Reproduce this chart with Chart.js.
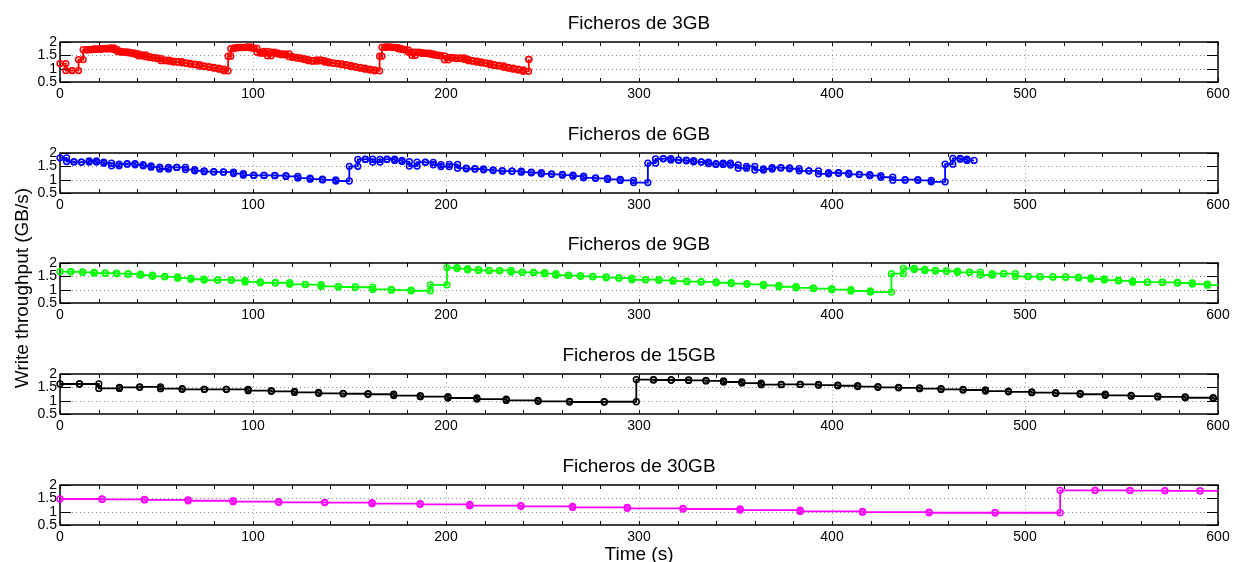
<!DOCTYPE html>
<html>
<head>
<meta charset="utf-8">
<script src="https://cdn.jsdelivr.net/npm/chart.js@4.4.1/dist/chart.umd.min.js"></script>
<style>
  html, body { margin: 0; padding: 0; background: #fff; }
  body { width: 1242px; height: 562px; position: relative; overflow: hidden; }
  canvas { position: absolute; left: 0; top: 0; }
</style>
</head>
<body>
<canvas id="p0" width="1242" height="562"></canvas>
<canvas id="p1" width="1242" height="562"></canvas>
<canvas id="p2" width="1242" height="562"></canvas>
<canvas id="p3" width="1242" height="562"></canvas>
<canvas id="p4" width="1242" height="562"></canvas>
<script>
// Shared axis ticks
const xTicks = [0, 100, 200, 300, 400, 500, 600];
const yTicks = [0.5, 1, 1.5, 2];
const yTickLabels = ['0.5', '1', '1.5', '2'];
const titles = ['Ficheros de 3GB', 'Ficheros de 6GB', 'Ficheros de 9GB', 'Ficheros de 15GB', 'Ficheros de 30GB'];
const xLabel = 'Time (s)';
const yLabel = 'Write throughput (GB/s)';

// File boundaries (s) and write throughput of each file (GB/s) between consecutive boundaries
const t3 = [0, 3.0, 6.3, 9.6, 12.0,
  14.1, 15.8, 17.6, 19.3, 21.0, 22.8, 24.5, 26.2, 27.9, 29.6, 31.4, 33.2, 35.0, 36.9, 38.8, 40.6, 42.5, 44.4, 46.4, 48.4,
  50.4, 52.4, 54.5, 56.6, 58.7, 60.9, 63.1, 65.3, 67.6, 69.9, 72.3, 74.7, 77.2, 79.8, 82.4, 85.0,
  87.1, 88.5, 90.2, 91.9, 93.6, 95.3, 97.0, 98.7, 100.4, 102.1, 103.9, 105.7, 107.5, 109.4, 111.2, 113.0, 114.9, 116.8,
  118.7, 120.6, 122.6, 124.6, 126.6, 128.7, 130.8, 132.9, 135.0, 137.1, 139.3, 141.5, 143.8, 146.1, 148.4, 150.8, 153.2,
  155.6, 158.1, 160.6, 163.1,
  165.6, 166.8, 168.5, 170.2, 171.9, 173.6, 175.3, 177.0, 178.7, 180.5, 182.3, 184.1, 185.9, 187.8, 189.6, 191.5, 193.4,
  195.3, 197.2, 199.2, 201.2, 203.2, 205.3, 207.4, 209.5, 211.6, 213.8, 216.0, 218.2, 220.5, 222.8, 225.1, 227.5, 229.9,
  232.4, 234.9, 237.5, 240.1, 242.8, 243.0];
const v3 = [1.19, 0.93, 0.93, 1.34, 1.71,
  1.71, 1.72, 1.74, 1.72, 1.75, 1.76, 1.74, 1.78, 1.72, 1.65, 1.62, 1.63, 1.60, 1.58, 1.55, 1.48, 1.52, 1.45, 1.42, 1.40,
  1.38, 1.30, 1.32, 1.28, 1.25, 1.26, 1.22, 1.20, 1.17, 1.15, 1.10, 1.08, 1.05, 1.02, 0.98, 0.92,
  1.47, 1.75, 1.78, 1.80, 1.79, 1.80, 1.82, 1.78, 1.76, 1.62, 1.58, 1.65, 1.48, 1.62, 1.58, 1.55, 1.52, 1.55, 1.45, 1.42,
  1.40, 1.38, 1.34, 1.30, 1.28, 1.33, 1.30, 1.25, 1.22, 1.20, 1.18, 1.15, 1.12, 1.08, 1.05, 1.02, 0.98, 0.95, 0.92,
  1.47, 1.80, 1.82, 1.81, 1.80, 1.79, 1.75, 1.72, 1.70, 1.62, 1.50, 1.62, 1.60, 1.57, 1.58, 1.55, 1.52, 1.50, 1.48, 1.33,
  1.42, 1.40, 1.38, 1.40, 1.35, 1.30, 1.28, 1.25, 1.22, 1.20, 1.15, 1.12, 1.10, 1.05, 1.02, 0.98, 0.95, 0.90, 1.35];

const t6 = [0, 3.4, 7.2, 11.1, 15.1, 18.9, 22.7, 26.7, 30.6, 34.8, 38.9, 43.1, 47.2, 51.7, 56.2, 60.5, 65.0, 69.8, 74.7,
  79.7, 84.7, 89.9, 95.0, 100.4, 105.7, 111.3, 117.1, 123.2, 129.6, 136.0, 142.9, 149.9, 154.3, 158.2, 162.0, 165.8,
  169.4, 173.4, 177.2, 181.0, 185.0, 189.3, 193.4, 197.4, 201.7, 206.0, 210.5, 215.0, 219.5, 224.4, 229.2, 234.2, 239.0,
  244.2, 249.4, 254.7, 260.3, 265.8, 271.3, 277.5, 283.7, 290.3, 297.2, 304.6, 308.6, 312.6, 316.5, 320.5, 324.5, 328.3,
  332.3, 336.0, 339.9, 343.6, 347.4, 351.4, 355.7, 360.0, 364.5, 369.0, 373.5, 378.0, 383.0, 388.0, 393.0, 398.2, 403.4,
  408.7, 414.1, 419.6, 425.3, 431.5, 437.9, 444.5, 451.4, 458.6, 462.6, 466.4, 469.9, 473.6];
const v6 = [1.82, 1.68, 1.66, 1.66, 1.70, 1.66, 1.62, 1.52, 1.58, 1.60, 1.56, 1.52, 1.47, 1.40, 1.46, 1.46, 1.38, 1.33,
  1.30, 1.29, 1.28, 1.23, 1.17, 1.16, 1.16, 1.15, 1.12, 1.06, 1.02, 0.99, 0.95, 1.50, 1.76, 1.77, 1.66, 1.76, 1.77, 1.72,
  1.68, 1.51, 1.66, 1.65, 1.56, 1.49, 1.57, 1.43, 1.41, 1.40, 1.37, 1.34, 1.32, 1.32, 1.28, 1.26, 1.22, 1.20, 1.17, 1.13,
  1.07, 1.05, 1.01, 0.97, 0.89, 1.62, 1.78, 1.79, 1.74, 1.73, 1.71, 1.67, 1.66, 1.60, 1.57, 1.62, 1.55, 1.43, 1.50, 1.36,
  1.40, 1.45, 1.44, 1.41, 1.33, 1.33, 1.22, 1.26, 1.24, 1.20, 1.19, 1.15, 1.09, 0.98, 1.00, 0.975, 0.92, 1.58, 1.80, 1.77,
  1.72];

const t9 = [0, 5.6, 11.7, 17.7, 23.4, 29.3, 35.3, 41.7, 47.9, 54.3, 61.0, 67.8, 74.7, 81.7, 88.8, 95.9, 103.8, 111.6,
  119.0, 127.1, 135.3, 144.2, 153.0, 162.0, 171.7, 181.9, 191.9, 200.5, 205.7, 211.2, 216.8, 222.3, 227.8, 233.7, 239.5,
  245.4, 251.1, 257.0, 263.5, 269.7, 276.1, 283.0, 289.6, 296.3, 303.4, 310.3, 317.6, 324.8, 332.2, 340.0, 347.8, 355.9,
  364.5, 372.5, 381.4, 390.4, 399.9, 409.8, 419.9, 430.8, 437.0, 442.6, 448.1, 453.6, 459.3, 465.0, 471.2, 476.9, 483.0,
  489.0, 495.0, 501.6, 507.8, 514.5, 521.1, 527.7, 534.2, 541.1, 548.4, 555.8, 563.4, 571.2, 579.0, 586.7, 594.5, 602.5];
const v9 = [1.68, 1.67, 1.65, 1.62, 1.62, 1.60, 1.58, 1.54, 1.50, 1.48, 1.43, 1.39, 1.36, 1.365, 1.35, 1.29, 1.26, 1.26,
  1.20, 1.19, 1.12, 1.10, 1.09, 1.01, 0.98, 0.96, 1.18, 1.83, 1.79, 1.75, 1.72, 1.71, 1.72, 1.66, 1.65, 1.64, 1.60, 1.54,
  1.53, 1.50, 1.48, 1.45, 1.43, 1.37, 1.38, 1.35, 1.32, 1.30, 1.29, 1.26, 1.23, 1.20, 1.16, 1.11, 1.07, 1.04, 1.00, 0.95,
  0.91, 1.60, 1.80, 1.76, 1.72, 1.70, 1.69, 1.65, 1.66, 1.55, 1.60, 1.60, 1.50, 1.49, 1.48, 1.475, 1.47, 1.44, 1.40, 1.36,
  1.33, 1.28, 1.28, 1.27, 1.25, 1.21, 1.17];

const t15 = [0, 10.1, 20.1, 30.8, 41.3, 52.1, 63.3, 74.8, 86.2, 97.5, 109.5, 121.5, 134.0, 146.7, 159.6, 172.9, 186.7,
  201.0, 216.0, 231.2, 247.7, 264.0, 282.0, 298.6, 307.5, 316.7, 325.7, 334.7, 343.8, 353.3, 363.3, 373.7, 383.5, 393.0,
  403.0, 413.3, 423.8, 434.5, 445.4, 456.5, 467.9, 479.5, 491.4, 503.5, 515.9, 528.6, 541.6, 555.0, 568.8, 583.0, 597.5,
  612.0];
const v15 = [1.625, 1.625, 1.46, 1.50, 1.52, 1.45, 1.425, 1.425, 1.425, 1.375, 1.35, 1.31, 1.275, 1.26, 1.24, 1.19, 1.15,
  1.10, 1.06, 1.01, 0.975, 0.95, 0.96, 1.79, 1.775, 1.775, 1.76, 1.74, 1.70, 1.66, 1.60, 1.61, 1.61, 1.58, 1.56, 1.53,
  1.50, 1.48, 1.45, 1.42, 1.40, 1.36, 1.33, 1.30, 1.27, 1.24, 1.20, 1.17, 1.14, 1.11, 1.08];

const t30 = [0, 21.8, 43.8, 66.4, 89.7, 113.3, 137.2, 161.7, 186.6, 212.3, 238.8, 265.6, 293.9, 322.8, 352.4, 383.5,
  415.8, 450.3, 484.5, 518.2, 536.3, 554.4, 572.5, 590.7, 609.0];
const v30 = [1.475, 1.46, 1.44, 1.41, 1.375, 1.35, 1.34, 1.30, 1.275, 1.225, 1.20, 1.16, 1.125, 1.10, 1.06, 1.01, 0.98,
  0.96, 0.96, 1.80, 1.80, 1.79, 1.78, 1.78];

const series = [
  { t: t3, v: v3, color: '#ff0000' },
  { t: t6, v: v6, color: '#0000ff' },
  { t: t9, v: v9, color: '#00ff00' },
  { t: t15, v: v15, color: '#000000' },
  { t: t30, v: v30, color: '#ff00ff' }
];

// Each file contributes a flat segment from its start to its end boundary
function fileSegments(t, v) {
  const pts = [];
  for (let i = 0; i < v.length; i++) {
    pts.push({ x: t[i], y: v[i] }, { x: t[i + 1], y: v[i] });
  }
  return pts;
}

const W = 1242, H = 562;
const plotLeft = 60, plotRight = 1218;
const plotTops = [42, 153, 263, 374, 485];
const plotH = 40;
const xAxisH = 26;
const FONT = '"Liberation Sans", Arial, Helvetica, sans-serif';

function line(ctx, x1, y1, x2, y2) {
  ctx.beginPath(); ctx.moveTo(x1, y1); ctx.lineTo(x2, y2); ctx.stroke();
}

// Box, inward ticks, dotted grid and panel title
const boxPlugin = {
  id: 'box',
  beforeDatasetsDraw(chart) {
    const { ctx, chartArea: a, scales: { x, y } } = chart;
    ctx.save();
    ctx.lineWidth = 1;
    ctx.setLineDash([1, 3]);
    ctx.strokeStyle = '#b4b4b4';
    xTicks.forEach(v => {
      if (v <= x.min || v >= x.max) return;
      const px = Math.round(x.getPixelForValue(v)) + 0.5;
      line(ctx, px, a.top, px, a.bottom);
    });
    ctx.strokeStyle = '#8c8c8c';
    yTicks.forEach(v => {
      if (v <= y.min || v >= y.max) return;
      const py = Math.round(y.getPixelForValue(v)) + 0.5;
      line(ctx, a.left, py, a.right, py);
    });
    ctx.setLineDash([]);
    ctx.strokeStyle = '#000';
    ctx.lineWidth = 1;
    for (let v = x.min; v <= x.max; v += 20) {
      const px = Math.round(x.getPixelForValue(v)) + 0.5;
      line(ctx, px, a.top, px, a.top + 4);
      line(ctx, px, a.bottom, px, a.bottom - 4);
    }
    yTicks.forEach(v => {
      const py = Math.round(y.getPixelForValue(v)) + 0.5;
      line(ctx, a.left, py, a.left + 11, py);
      line(ctx, a.right, py, a.right - 11, py);
    });
    ctx.lineWidth = 1.5;
    ctx.strokeRect(a.left, a.top, a.right - a.left, a.bottom - a.top);
    ctx.restore();
  },
  afterDraw(chart, args, opts) {
    const { ctx, chartArea: a } = chart;
    ctx.save();
    ctx.fillStyle = '#000';
    ctx.font = '19px ' + FONT;
    ctx.textAlign = 'center';
    ctx.textBaseline = 'alphabetic';
    ctx.fillText(opts.title, (a.left + a.right) / 2, a.top - 13);
    if (opts.axisLabels) {
      ctx.fillText(xLabel, (a.left + a.right) / 2, 560);
      ctx.translate(28, 288);
      ctx.rotate(-Math.PI / 2);
      ctx.fillText(yLabel, 0, 0);
    }
    ctx.restore();
  }
};

series.forEach((s, i) => {
  const top = plotTops[i];
  new Chart(document.getElementById('p' + i), {
    type: 'line',
    data: {
      datasets: [{
        data: fileSegments(s.t, s.v),
        borderColor: s.color,
        borderWidth: 1.8,
        pointRadius: 2.9,
        pointBorderWidth: 1.5,
        pointBorderColor: s.color,
        pointBackgroundColor: 'rgba(0,0,0,0)',
        fill: false,
        tension: 0,
        clip: { left: 6, top: 6, right: 0, bottom: 6 }
      }]
    },
    options: {
      responsive: false,
      animation: false,
      devicePixelRatio: 1,
      events: [],
      layout: { padding: { left: 0, right: W - plotRight, top: top, bottom: H - top - plotH - xAxisH } },
      plugins: {
        legend: { display: false },
        tooltip: { enabled: false },
        title: { display: false },
        box: { title: titles[i], axisLabels: i === series.length - 1 }
      },
      scales: {
        x: {
          type: 'linear', min: 0, max: 600,
          afterBuildTicks: sc => { sc.ticks = xTicks.map(v => ({ value: v })); },
          ticks: { color: '#000', font: { family: FONT, size: 14 }, padding: 4, maxRotation: 0, autoSkip: false },
          grid: { display: false, drawTicks: false },
          border: { display: false },
          afterFit: sc => { sc.height = xAxisH; }
        },
        y: {
          type: 'linear', min: 0.5, max: 2,
          afterBuildTicks: sc => { sc.ticks = yTicks.map(v => ({ value: v })); },
          ticks: {
            color: '#000', font: { family: FONT, size: 14 }, padding: 3, autoSkip: false,
            callback: v => yTickLabels[yTicks.indexOf(v)]
          },
          grid: { display: false, drawTicks: false },
          border: { display: false },
          afterFit: sc => { sc.width = plotLeft; }
        }
      }
    },
    plugins: [boxPlugin]
  });
});
</script>
</body>
</html>
